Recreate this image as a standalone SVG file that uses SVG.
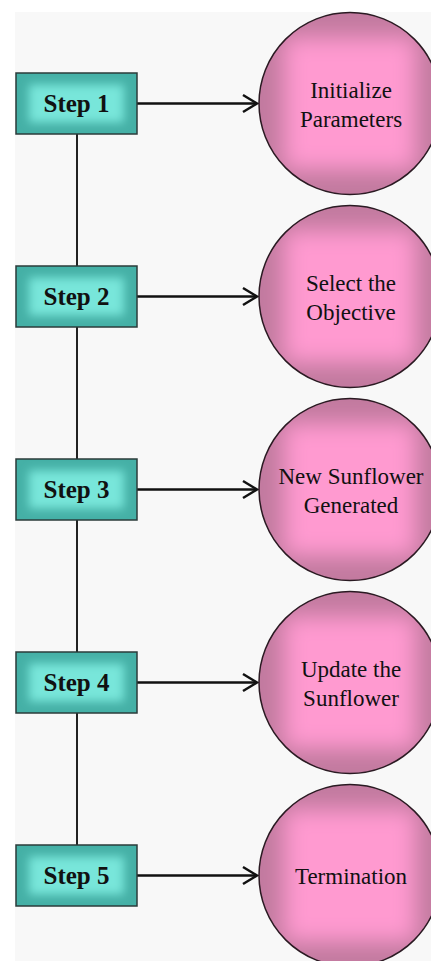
<svg xmlns="http://www.w3.org/2000/svg" width="431" height="961" viewBox="0 0 431 961">
<defs>
<style>
.step rect.b{fill:#45b0a6;stroke:#2b3b3a;stroke-width:1.5}
.step rect.i{fill:#78e6da;filter:url(#blurB)}
.step text{font-family:"Liberation Serif","Times New Roman",serif;font-weight:bold;font-size:25px;fill:#111;text-anchor:middle}
.circ circle.b{fill:#c27a9f}
.circ rect.i{fill:#ff9ad0;filter:url(#blurC)}
.circ circle.o{fill:none;stroke:#2a1a22;stroke-width:1.5}
.circ text{font-family:"Liberation Serif","Times New Roman",serif;font-size:23px;fill:#111;text-anchor:middle}
.conn line{stroke:#111;stroke-width:2.5}
.conn path{fill:none;stroke:#111;stroke-width:2.5}
.conn line.v{stroke:#222;stroke-width:2}
</style>
<filter id="blurB" x="-20%" y="-40%" width="140%" height="180%"><feGaussianBlur stdDeviation="5"/></filter>
<filter id="blurC" x="-30%" y="-30%" width="160%" height="160%"><feGaussianBlur stdDeviation="11"/></filter>
<clipPath id="cc"><circle cx="0" cy="0" r="91"/></clipPath>
<clipPath id="cb"><rect x="16" y="-30.5" width="121" height="61"/></clipPath>
</defs>
<rect x="0" y="0" width="431" height="961" fill="#ffffff"/>
<rect x="15" y="12" width="416" height="949" fill="#f8f8f8"/>
<g id="connectors" class="conn">
<line class="v" x1="77" y1="134" x2="77" y2="845"/>
<line x1="137" y1="103.5" x2="257" y2="103.5"/><path d="M243,95 L257,103.5 L243,112"/>
<line x1="137" y1="296.5" x2="257" y2="296.5"/><path d="M243,288 L257,296.5 L243,305"/>
<line x1="137" y1="489.5" x2="257" y2="489.5"/><path d="M243,481 L257,489.5 L243,498"/>
<line x1="137" y1="682.5" x2="257" y2="682.5"/><path d="M243,674 L257,682.5 L243,691"/>
<line x1="137" y1="875.5" x2="257" y2="875.5"/><path d="M243,867 L257,875.5 L243,884"/>
</g>
<g id="step1" class="step" transform="translate(0,103.5)"><rect class="b" x="16" y="-30.5" width="121" height="61"/><g clip-path="url(#cb)"><rect class="i" x="29" y="-19" width="95" height="38"/></g><text x="76.5" y="8">Step 1</text></g>
<g id="step2" class="step" transform="translate(0,296.5)"><rect class="b" x="16" y="-30.5" width="121" height="61"/><g clip-path="url(#cb)"><rect class="i" x="29" y="-19" width="95" height="38"/></g><text x="76.5" y="8">Step 2</text></g>
<g id="step3" class="step" transform="translate(0,489.5)"><rect class="b" x="16" y="-30.5" width="121" height="61"/><g clip-path="url(#cb)"><rect class="i" x="29" y="-19" width="95" height="38"/></g><text x="76.5" y="8">Step 3</text></g>
<g id="step4" class="step" transform="translate(0,682.5)"><rect class="b" x="16" y="-30.5" width="121" height="61"/><g clip-path="url(#cb)"><rect class="i" x="29" y="-19" width="95" height="38"/></g><text x="76.5" y="8">Step 4</text></g>
<g id="step5" class="step" transform="translate(0,875.5)"><rect class="b" x="16" y="-30.5" width="121" height="61"/><g clip-path="url(#cb)"><rect class="i" x="29" y="-19" width="95" height="38"/></g><text x="76.5" y="8">Step 5</text></g>
<g id="circle1" class="circ" transform="translate(350,103.5)"><circle class="b" r="91"/><g clip-path="url(#cc)"><rect class="i" x="-66" y="-66" width="132" height="132"/></g><circle class="o" r="91"/><text x="1" y="-6">Initialize</text><text x="1" y="23">Parameters</text></g>
<g id="circle2" class="circ" transform="translate(350,296.5)"><circle class="b" r="91"/><g clip-path="url(#cc)"><rect class="i" x="-66" y="-66" width="132" height="132"/></g><circle class="o" r="91"/><text x="1" y="-6">Select the</text><text x="1" y="23">Objective</text></g>
<g id="circle3" class="circ" transform="translate(350,489.5)"><circle class="b" r="91"/><g clip-path="url(#cc)"><rect class="i" x="-66" y="-66" width="132" height="132"/></g><circle class="o" r="91"/><text x="1" y="-6">New Sunflower</text><text x="1" y="23">Generated</text></g>
<g id="circle4" class="circ" transform="translate(350,682.5)"><circle class="b" r="91"/><g clip-path="url(#cc)"><rect class="i" x="-66" y="-66" width="132" height="132"/></g><circle class="o" r="91"/><text x="1" y="-6">Update the</text><text x="1" y="23">Sunflower</text></g>
<g id="circle5" class="circ" transform="translate(350,875.5)"><circle class="b" r="91"/><g clip-path="url(#cc)"><rect class="i" x="-66" y="-66" width="132" height="132"/></g><circle class="o" r="91"/><text x="1" y="8">Termination</text></g>
</svg>
